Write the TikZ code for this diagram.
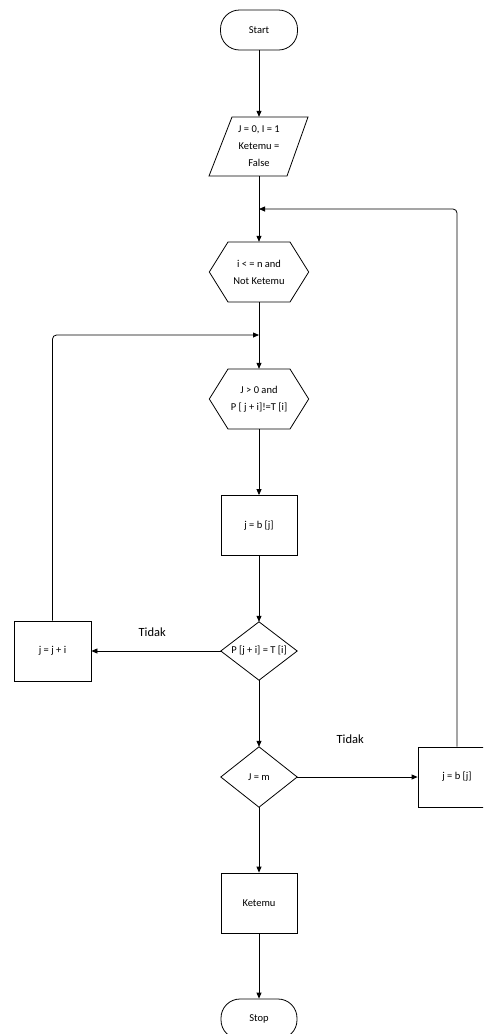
\documentclass[tikz,border=0pt]{standalone}
\usepackage{fontspec}
\setmainfont{Carlito}
\usetikzlibrary{arrows.meta,calc}
\begin{document}
\begin{tikzpicture}[x=1pt,y=-1pt,
  every node/.style={font=\fontsize{10.5}{17}\selectfont, inner sep=0pt, align=center},
  line/.style={line width=0.8pt},
  box/.style={draw, line width=0.8pt, minimum width=76pt, minimum height=60pt},
  term/.style={draw, line width=0.8pt, rounded corners=19pt, minimum width=77pt, minimum height=40pt},
  holder/.style={minimum width=#1, minimum height=60pt},
  lbl/.style={font=\fontsize{12.5}{15}\selectfont},
  arr/.style={line width=0.8pt, -{Triangle[length=6pt,width=5pt]}}
]
\clip (0,0) rectangle (483,1034);
% nodes
\node[term] (start) at (259,30) {Start};
\node[holder=99pt, minimum height=59pt] (init) at (259,146.5) {J = 0, I = 1\\Ketemu =\\False};
\draw[line] ($(init)+(-27,-29.5)$) -- ($(init)+(49,-29.5)$) -- ($(init)+(28,29.5)$) -- ($(init)+(-50,29.5)$) -- cycle;
\node[holder=99pt] (h1) at (259,272) {i < = n and\\Not Ketemu};
\draw[line] (h1.west) -- ($(h1)+(-31,-30)$) -- ($(h1)+(31,-30)$) -- (h1.east) -- ($(h1)+(31,30)$) -- ($(h1)+(-31,30)$) -- cycle;
\node[holder=99pt] (h2) at (259,399) {J > 0 and\\P [ j + i]!=T [i]};
\draw[line] (h2.west) -- ($(h2)+(-31,-30)$) -- ($(h2)+(31,-30)$) -- (h2.east) -- ($(h2)+(31,30)$) -- ($(h2)+(-31,30)$) -- cycle;
\node[box] (b1) at (259,525.5) {j = b [j]};
\node[holder=76pt, minimum height=58pt] (d1) at (259,651) {P [j + i] = T [i]};
\draw[line] (d1.west) -- (d1.north) -- (d1.east) -- (d1.south) -- cycle;
\node[box, minimum width=77pt] (jji) at (52.5,651) {j = j + i};
\node[holder=76pt] (d2) at (259,777) {J = m};
\draw[line] (d2.west) -- (d2.north) -- (d2.east) -- (d2.south) -- cycle;
\node[box, minimum width=78pt] (b2) at (457,777) {j = b [j]};
\node[box] (ket) at (259,903) {Ketemu};
\node[term, minimum width=76pt] (stop) at (259,1019) {Stop};
\coordinate (j1) at (259,209);
\coordinate (j2) at (259,335);
% connectors
\draw[arr] (start.south) -- (init.north);
\draw[arr] (init.south) -- (h1.north);
\draw[arr, rounded corners=4pt] (b2.north) |- (j1);
\draw[arr] (h1.south) -- (h2.north);
\draw[arr, rounded corners=4pt] (jji.north) |- (j2);
\draw[arr] (h2.south) -- (b1.north);
\draw[arr] (b1.south) -- (d1.north);
\draw[arr] (d1.west) -- (jji.east) node[lbl, pos=0.53, above=14pt] {Tidak};
\draw[arr] (d1.south) -- (d2.north);
\draw[arr] (d2.east) -- (b2.west) node[lbl, pos=0.44, above=33pt] {Tidak};
\draw[arr] (d2.south) -- (ket.north);
\draw[arr] (ket.south) -- (stop.north);
\end{tikzpicture}
\end{document}
